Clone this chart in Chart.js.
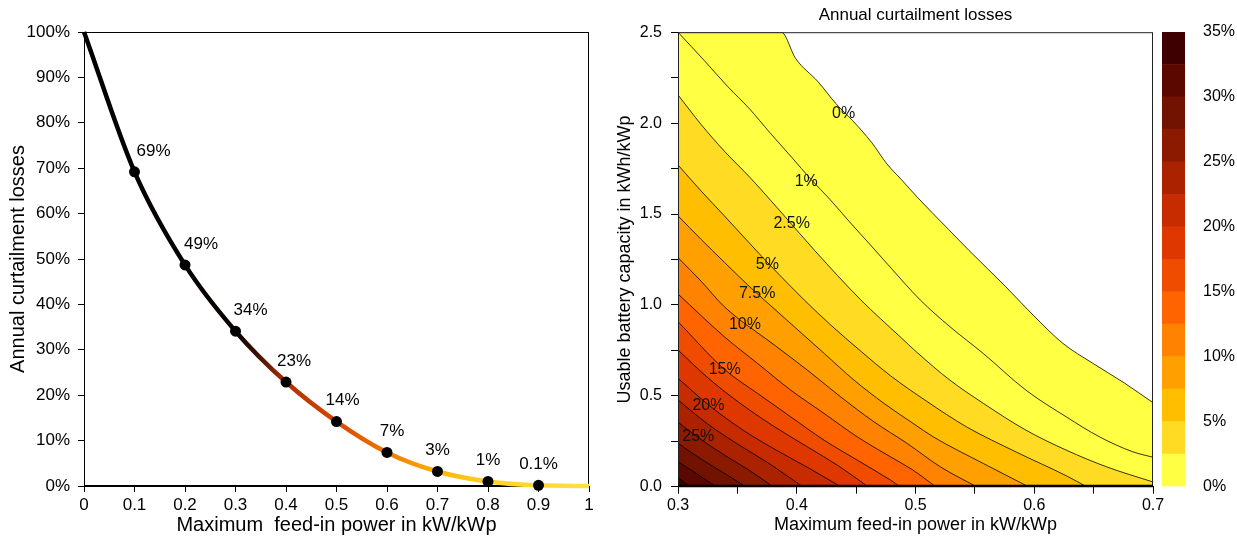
<!DOCTYPE html>
<html>
<head>
<meta charset="utf-8">
<title>Annual curtailment losses</title>
<script src="https://cdn.jsdelivr.net/npm/chart.js@4.4.1/dist/chart.umd.min.js"></script>
<style>
  html, body { margin: 0; padding: 0; background: #fff; }
  #wrap { position: relative; width: 1237px; height: 542px; }
  .panel { position: absolute; top: 0; height: 542px; }
  #left { left: 0; width: 600px; }
  #right { left: 600px; width: 580px; }
  #bar { left: 1160px; width: 77px; }
</style>
</head>
<body>
<div id="wrap">
  <div class="panel" id="left"><canvas id="lossChart"></canvas></div>
  <div class="panel" id="right"><canvas id="contourChart"></canvas></div>
  <div class="panel" id="bar"><canvas id="colorBar"></canvas></div>
</div>
<script>
// -----Data
  // Left: losses without battery vs. feed-in limit
  var feedInLimits = [0, 0.1, 0.2, 0.3, 0.4, 0.5, 0.6, 0.7, 0.8, 0.9, 1]
  var curtailLosses = [100, 69.2, 48.7, 34.1, 22.9, 14.2, 7.4, 3.2, 1.0, 0.14, 0]
  var limitTicks = [0, 0.1, 0.2, 0.3, 0.4, 0.5, 0.6, 0.7, 0.8, 0.9, 1]
  var lossTicks = [0, 10, 20, 30, 40, 50, 60, 70, 80, 90, 100]

  // Right: iso-loss lines, [feed-in power, battery capacity]
  var isoLevels = [0, 1, 2.5, 5, 7.5, 10, 12.5, 15, 17.5, 20, 22.5, 25, 27.5, 30, 32.5]
  var iso0 = [[0.3, 2.5], [0.387, 2.5], [0.399, 2.356], [0.418, 2.227], [0.433, 2.107], [0.447, 2.014], [0.463, 1.894], [0.476, 1.775], [0.488, 1.69], [0.502, 1.589], [0.528, 1.414], [0.545, 1.30], [0.576, 1.10], [0.599, 0.944], [0.624, 0.789], [0.649, 0.68], [0.676, 0.57], [0.7, 0.462]]
  var iso1 = [[0.3, 2.5], [0.322, 2.345], [0.342, 2.20], [0.36, 2.08], [0.377, 1.95], [0.396, 1.81], [0.412, 1.69], [0.428, 1.58], [0.444, 1.46], [0.462, 1.33], [0.477, 1.22], [0.504, 1.027], [0.529, 0.88], [0.557, 0.733], [0.593, 0.531], [0.627, 0.384], [0.655, 0.274], [0.683, 0.192], [0.7, 0.162]]
  var iso2_5 = [[0.3, 2.155], [0.3195, 1.992], [0.339, 1.846], [0.3615, 1.695], [0.378, 1.575], [0.3895, 1.49], [0.415, 1.30], [0.454, 1.027], [0.487, 0.825], [0.501, 0.74], [0.529, 0.586], [0.557, 0.459], [0.593, 0.311], [0.627, 0.201], [0.661, 0.109], [0.7, 0.026]]
  var iso5 = [[0.3, 1.77], [0.3195, 1.626], [0.339, 1.49], [0.3587, 1.35], [0.378, 1.215], [0.4063, 1.027], [0.4287, 0.889], [0.454, 0.745], [0.479, 0.61], [0.5094, 0.47], [0.543, 0.329], [0.585, 0.19], [0.627, 0.06], [0.644, 0]]
  var iso7_5 = [[0.3, 1.49], [0.3195, 1.36], [0.339, 1.235], [0.3587, 1.11], [0.3727, 1.027], [0.3979, 0.88], [0.4231, 0.733], [0.4483, 0.586], [0.4735, 0.458], [0.4987, 0.345], [0.515, 0.274], [0.557, 0.128], [0.595, 0]]
  var iso10 = [[0.3, 1.26], [0.3195, 1.13], [0.339, 0.99], [0.381, 0.78], [0.409, 0.641], [0.437, 0.494], [0.465, 0.357], [0.493, 0.238], [0.521, 0.109], [0.5514, 0]]
  var iso12_5 = [[0.3, 1.06], [0.339, 0.825], [0.367, 0.678], [0.395, 0.531], [0.423, 0.403], [0.451, 0.274], [0.479, 0.164], [0.497, 0.095], [0.517, 0]]
  var iso15 = [[0.3, 0.908], [0.339, 0.646], [0.367, 0.513], [0.395, 0.384], [0.423, 0.256], [0.451, 0.146], [0.479, 0.036], [0.487, 0]]
  var iso17_5 = [[0.3, 0.752], [0.325, 0.60], [0.35, 0.47], [0.38, 0.335], [0.41, 0.215], [0.435, 0.115], [0.46, 0]]
  var iso20 = [[0.3, 0.596], [0.3267, 0.445], [0.3548, 0.311], [0.3828, 0.201], [0.4108, 0.10], [0.437, 0]]
  var iso22_5 = [[0.3, 0.477], [0.325, 0.345], [0.35, 0.235], [0.375, 0.135], [0.405, 0]]
  var iso25 = [[0.3, 0.355], [0.318, 0.266], [0.34, 0.17], [0.36, 0.09], [0.38, 0]]
  var iso27_5 = [[0.3, 0.239], [0.32, 0.15], [0.34, 0.07], [0.357, 0]]
  var iso30 = [[0.3, 0.138], [0.315, 0.075], [0.332, 0]]
  var iso32_5 = [[0.3, 0.05], [0.31, 0]]
  var isoLines = [iso0, iso1, iso2_5, iso5, iso7_5, iso10, iso12_5, iso15, iso17_5, iso20, iso22_5, iso25, iso27_5, iso30, iso32_5]

  // Inline labels of the iso lines
  var isoLabelLevels = [0, 1, 2.5, 5, 7.5, 10, 15, 20, 25]
  var isoLabelX = [0.4395, 0.408, 0.3957, 0.3752, 0.3667, 0.3564, 0.3393, 0.3256, 0.3171]
  var isoLabelY = [2.055, 1.68, 1.449, 1.222, 1.061, 0.890, 0.644, 0.445, 0.275]

  var feedTicks = [0.3, 0.35, 0.4, 0.45, 0.5, 0.55, 0.6, 0.65, 0.7]
  var capTicks = [0, 0.25, 0.5, 0.75, 1, 1.25, 1.5, 1.75, 2, 2.25, 2.5]

  // Colour bar
  var barLevels = [0, 2.5, 5, 7.5, 10, 12.5, 15, 17.5, 20, 22.5, 25, 27.5, 30, 32.5, 35]
  var barTicks = [0, 5, 10, 15, 20, 25, 30, 35]

// -----Styles
  var bandColors = ['#ffff44', '#ffdb24', '#ffbe00', '#ffa000', '#ff8200', '#ff6400', '#f04c00',
                    '#de3800', '#c62c00', '#aa2200', '#8c1a00', '#721200', '#5a0800', '#3e0000']
  function bandColor(level) {
    return bandColors[Math.min(bandColors.length - 1, Math.floor(level / 2.5))]
  }

  Chart.defaults.font.family = '"Liberation Sans", Arial, sans-serif'
  Chart.defaults.color = '#000'

  // box around the plot area
  var framePlugin = {
    id: 'frame',
    beforeDatasetsDraw: function(chart, args, opts) {
      if (!opts.under) return
      drawFrame(chart, opts)
    },
    afterDatasetsDraw: function(chart, args, opts) {
      if (opts.under) return
      drawFrame(chart, opts)
    }
  }
  function drawFrame(chart, opts) {
    var a = chart.chartArea
    var ctx = chart.ctx
    ctx.save()
    ctx.strokeStyle = opts.color || '#000'
    ctx.lineWidth = 1
    ctx.strokeRect(a.left + 0.5, a.top + 0.5, a.right - a.left - 1, a.bottom - a.top - 1)
    if (opts.bottomWidth) {
      ctx.lineWidth = opts.bottomWidth
      ctx.strokeStyle = '#000'
      ctx.beginPath()
      ctx.moveTo(a.left, a.bottom - opts.bottomWidth / 2 + 0.5)
      ctx.lineTo(a.right, a.bottom - opts.bottomWidth / 2 + 0.5)
      ctx.stroke()
    }
    ctx.restore()
  }

  // value tags above the markers of the left chart
  var pointTagPlugin = {
    id: 'pointTags',
    afterDatasetsDraw: function(chart, args, opts) {
      var meta = chart.getDatasetMeta(0)
      var ctx = chart.ctx
      ctx.save()
      ctx.font = opts.size + 'px "Liberation Sans", Arial, sans-serif'
      ctx.fillStyle = '#000'
      ctx.textAlign = 'center'
      ctx.textBaseline = 'middle'
      meta.data.forEach(function(pt, i) {
        if (i === 0 || i === meta.data.length - 1) return
        var v = curtailLosses[i]
        var txt = v >= 1 ? Math.round(v) + '%' : (Math.round(v * 10) / 10) + '%'
        ctx.fillText(txt, pt.x + opts.dx[i], pt.y + opts.dy)
      })
      ctx.restore()
    }
  }

  // inline labels on the iso lines
  var isoLabelPlugin = {
    id: 'isoLabels',
    afterDatasetsDraw: function(chart, args, opts) {
      var ctx = chart.ctx
      var xs = chart.scales.x
      var ys = chart.scales.y
      ctx.save()
      ctx.font = opts.size + 'px "Liberation Sans", Arial, sans-serif'
      ctx.fillStyle = '#111'
      ctx.textAlign = 'center'
      ctx.textBaseline = 'middle'
      for (var i = 0; i < isoLabelLevels.length; i++) {
        ctx.fillText(isoLabelLevels[i] + '%', xs.getPixelForValue(isoLabelX[i]), ys.getPixelForValue(isoLabelY[i]))
      }
      ctx.restore()
    }
  }

  function lineGradient(context) {
    var chart = context.chart
    var area = chart.chartArea
    if (!area) return '#000'
    var g = chart.ctx.createLinearGradient(area.left, 0, area.right, 0)
    g.addColorStop(0, '#000000')
    g.addColorStop(0.3, '#0a0000')
    g.addColorStop(0.34, '#3a1000')
    g.addColorStop(0.4, '#b03000')
    g.addColorStop(0.5, '#d84600')
    g.addColorStop(0.6, '#ee7800')
    g.addColorStop(0.7, '#ffb200')
    g.addColorStop(0.8, '#ffd22a')
    g.addColorStop(1, '#ffe040')
    return g
  }

  function tickList(values) {
    return function(axis) {
      axis.ticks = values.map(function(v) { return { value: v } })
    }
  }

// -----Left chart
  var lossChart = new Chart(document.getElementById('lossChart'), {
    type: 'line',
    data: {
      datasets: [{
        data: feedInLimits.map(function(x, i) { return { x: x, y: curtailLosses[i] } }),
        borderColor: lineGradient,
        borderWidth: 4.5,
        cubicInterpolationMode: 'monotone',
        pointRadius: function(ctx) {
          return (ctx.dataIndex === 0 || ctx.dataIndex === feedInLimits.length - 1) ? 0 : 5.5
        },
        pointBackgroundColor: '#000',
        pointBorderWidth: 0,
        clip: 6
      }]
    },
    options: {
      responsive: true,
      maintainAspectRatio: false,
      animation: false,
      layout: { padding: { top: 32, right: 11, left: 0, bottom: 0 } },
      plugins: {
        legend: { display: false },
        tooltip: { enabled: false },
        frame: { under: true, color: '#000' },
        pointTags: { size: 17, dy: -21, dx: [0, 19, 16, 15, 8, 6, 5, 0, 0, 0, 0] }
      },
      scales: {
        x: {
          type: 'linear', min: 0, max: 1,
          afterBuildTicks: tickList(limitTicks),
          afterFit: function(axis) { axis.height = 56 },
          grid: { drawOnChartArea: false, tickLength: 6, tickColor: '#000' },
          border: { color: '#000' },
          ticks: {
            font: { size: 17 }, padding: 3, maxRotation: 0, autoSkip: false,
            callback: function(v) { return String(Math.round(v * 10) / 10) }
          },
          title: { display: true, text: 'Maximum  feed-in power in kW/kWp', font: { size: 20 }, padding: { top: 0, bottom: 5 } }
        },
        y: {
          min: 0, max: 100,
          afterBuildTicks: tickList(lossTicks),
          afterFit: function(axis) { axis.width = 84 },
          grid: { drawOnChartArea: false, tickLength: 6, tickColor: '#000' },
          border: { color: '#000' },
          ticks: {
            font: { size: 17 }, padding: 8, autoSkip: false,
            callback: function(v) { return v + '%' }
          },
          title: { display: true, text: 'Annual curtailment losses', font: { size: 20 }, padding: { top: 6, bottom: 0 } }
        }
      }
    },
    plugins: [framePlugin, pointTagPlugin]
  })

// -----Right chart (filled iso lines)
  var isoDatasets = isoLines.map(function(line, i) {
    return {
      label: isoLevels[i] + '%',
      data: line.map(function(p) { return { x: p[0], y: p[1] } }),
      order: isoLines.length - i,
      fill: 'origin',
      backgroundColor: bandColor(isoLevels[i]),
      borderColor: '#000',
      borderWidth: 0.8,
      pointRadius: 0,
      pointHitRadius: 0,
      cubicInterpolationMode: 'monotone'
    }
  })

  var contourChart = new Chart(document.getElementById('contourChart'), {
    type: 'line',
    data: { datasets: isoDatasets },
    options: {
      responsive: true,
      maintainAspectRatio: false,
      animation: false,
      layout: { padding: { top: 0, right: 27, left: 0, bottom: 0 } },
      plugins: {
        legend: { display: false },
        tooltip: { enabled: false },
        title: {
          display: true, fullSize: false, text: 'Annual curtailment losses',
          color: '#000', font: { size: 17, weight: 'normal' }, padding: { top: 5, bottom: 6.8 }
        },
        frame: { under: false, color: '#222', bottomWidth: 2.5 },
        isoLabels: { size: 16 }
      },
      scales: {
        x: {
          type: 'linear', min: 0.3, max: 0.7,
          afterBuildTicks: tickList(feedTicks),
          afterFit: function(axis) { axis.height = 55.3 },
          grid: { drawOnChartArea: false, tickLength: 7, tickColor: '#000' },
          border: { color: '#000' },
          ticks: {
            font: { size: 16 }, padding: 2, maxRotation: 0, autoSkip: false,
            callback: function(v) { return Math.abs(v * 10 - Math.round(v * 10)) < 1e-6 ? v.toFixed(1) : '' }
          },
          title: { display: true, text: 'Maximum feed-in power in kW/kWp', font: { size: 18 }, padding: { top: 0, bottom: 6 } }
        },
        y: {
          min: 0, max: 2.5,
          afterBuildTicks: tickList(capTicks),
          afterFit: function(axis) { axis.width = 78 },
          grid: { drawOnChartArea: false, tickLength: 7, tickColor: '#000' },
          border: { color: '#000' },
          ticks: {
            font: { size: 16 }, padding: 9, autoSkip: false,
            callback: function(v) { return Math.abs(v * 2 - Math.round(v * 2)) < 1e-6 ? v.toFixed(1) : '' }
          },
          title: { display: true, text: 'Usable battery capacity in kWh/kWp', font: { size: 18 }, padding: { top: 14, bottom: 0 } }
        }
      }
    },
    plugins: [framePlugin, isoLabelPlugin]
  })

// -----Colour bar
  var barDatasets = []
  for (var i = 0; i < barLevels.length - 1; i++) {
    barDatasets.push({
      data: [barLevels[i + 1] - barLevels[i]],
      backgroundColor: bandColors[i],
      borderWidth: 0,
      barPercentage: 1,
      categoryPercentage: 1
    })
  }

  var colorBar = new Chart(document.getElementById('colorBar'), {
    type: 'bar',
    data: { labels: ['losses'], datasets: barDatasets },
    options: {
      responsive: true,
      maintainAspectRatio: false,
      animation: false,
      layout: { padding: { top: 32, right: 0, left: 2, bottom: 55.5 } },
      plugins: { legend: { display: false }, tooltip: { enabled: false } },
      scales: {
        x: { stacked: true, display: false },
        y: {
          stacked: true, position: 'right', min: 0, max: 35,
          afterBuildTicks: tickList(barTicks),
          afterFit: function(axis) { axis.width = 52 },
          grid: { display: false },
          border: { display: false },
          ticks: {
            font: { size: 16 }, padding: 10,
            callback: function(v) { return v + '%' }
          }
        }
      }
    }
  })
</script>
</body>
</html>
